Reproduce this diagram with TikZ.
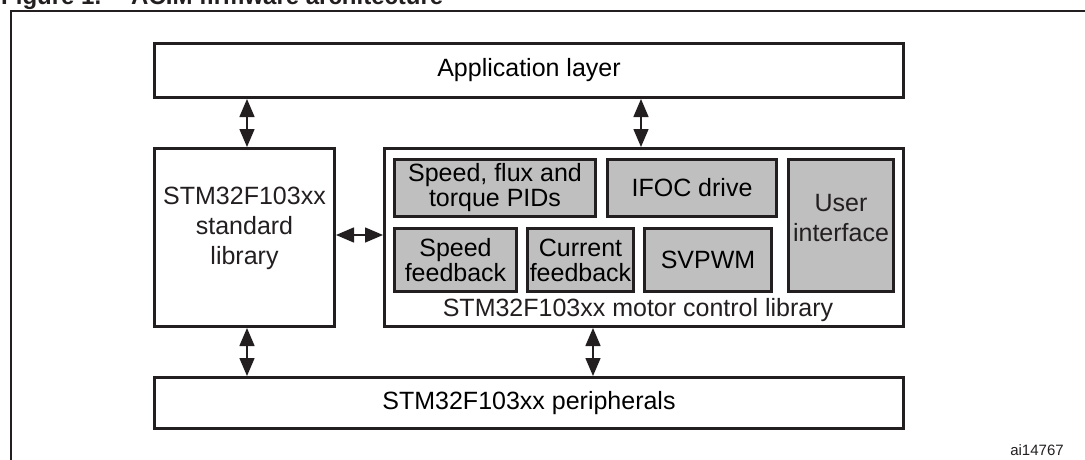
\documentclass[tikz,border=0pt]{standalone}
\usepackage{fontspec}
\setmainfont{Liberation Sans}
\usetikzlibrary{arrows.meta}
\definecolor{ink}{HTML}{231F20}
\definecolor{blockgray}{HTML}{BFBFBF}
\tikzset{
  outerbox/.style={draw=ink, line width=3pt, fill=white, inner sep=0pt, align=center, font=\fontsize{25}{30}\selectfont},
  innerbox/.style={draw=ink, line width=3pt, fill=blockgray, inner sep=0pt, align=center, font=\fontsize{25}{25}\selectfont},
  plaintext/.style={inner sep=0pt, align=center, font=\fontsize{25}{30}\selectfont, text=ink},
  dbl/.style={draw=ink, line width=1.4pt, {Triangle[length=18pt,width=15pt]}-{Triangle[length=18pt,width=15pt]}},
}
\begin{document}
\begin{tikzpicture}[x=1pt,y=-1pt]
\useasboundingbox (0,0) rectangle (1085,459);
\clip (0,0) rectangle (1085,459);
% caption (cut off at the top)
\node[anchor=base west, inner sep=0pt, font=\bfseries\fontsize{24}{28}\selectfont, text=ink] (caption) at (1,4) {Figure 1.\hspace{30pt}ACIM firmware architecture};
% frame
\draw[ink, line width=2.5pt] (1090,11) -- (11,11) -- (11,470);
% main boxes
\node[outerbox, minimum width=749pt, minimum height=54pt] (app) at (529,70.5) {Application layer};
\node[outerbox, minimum width=180pt, minimum height=178pt] (std) at (244.5,237.5) {};
\node[plaintext] (stdtext) at (244.5,228) {STM32F103xx\\standard\\library};
\node[outerbox, minimum width=519pt, minimum height=178pt] (motor) at (644,237.5) {};
\node[plaintext] (motortext) at (638,310) {STM32F103xx motor control library};
\node[outerbox, minimum width=749pt, minimum height=51pt] (periph) at (529,403) {STM32F103xx peripherals};
% inner blocks
\node[innerbox, minimum width=201pt, minimum height=57pt] (pids) at (495,188) {Speed, flux and\\torque PIDs};
\node[innerbox, minimum width=169pt, minimum height=57pt] (ifoc) at (692,188) {IFOC drive};
\node[innerbox, minimum width=122pt, minimum height=63pt] (speedfb) at (455.5,260) {Speed\\feedback};
\node[innerbox, minimum width=106pt, minimum height=63pt] (currfb) at (580.5,260) {Current\\feedback};
\node[innerbox, minimum width=127pt, minimum height=63pt] (svpwm) at (708,260) {SVPWM};
\node[innerbox, minimum width=105pt, minimum height=132pt] (ui) at (841,225.5) {};
\node[plaintext] (uitext) at (841,218) {User\\interface};
% connectors
\draw[dbl] ([xshift=2.5pt]std.north) -- ([xshift=2.5pt]std.north |- app.south);
\draw[dbl] ([xshift=-3pt]motor.north) -- ([xshift=-3pt]motor.north |- app.south);
\draw[dbl] ([yshift=2.5pt]std.east) -- ([yshift=2.5pt]std.east -| motor.west);
\draw[dbl] ([xshift=2.5pt]std.south) -- ([xshift=2.5pt]std.south |- periph.north);
\draw[dbl] ([xshift=-51pt]motor.south) -- ([xshift=-51pt]motor.south |- periph.north);
% reference code
\node[inner sep=0pt, font=\fontsize{15}{18}\selectfont, text=ink] (code) at (1037,450) {ai14767};
\end{tikzpicture}
\end{document}
